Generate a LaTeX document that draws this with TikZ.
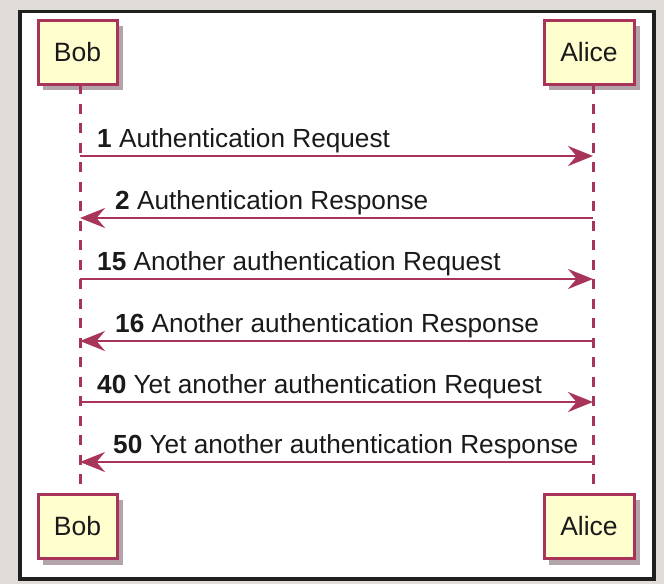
\documentclass[tikz,border=0pt]{standalone}
\usepackage{fontspec}
\setmainfont{Liberation Sans}
\usetikzlibrary{arrows.meta}
\definecolor{umlred}{RGB}{168,52,90}
\definecolor{umlfill}{RGB}{254,254,206}
\definecolor{bggray}{RGB}{224,221,217}
\definecolor{shadowgray}{RGB}{178,164,170}
\definecolor{txt}{RGB}{26,26,26}
\tikzset{
  partbox/.style={draw=umlred, line width=3pt, fill=umlfill, minimum height=64pt,
    inner sep=0pt, font=\fontsize{26.5pt}{29pt}\selectfont, text=txt},
  partshadow/.style={fill=shadowgray, draw=none},
  lifeline/.style={draw=umlred, line width=3pt, dash pattern=on 10pt off 9.5pt},
  msg/.style={draw=umlred, line width=2.8pt, -{Stealth[length=25pt, width=20pt, inset=8.5pt]}},
  msglabel/.style={anchor=base west, inner sep=0pt, text=txt, font=\fontsize{26.2pt}{29pt}\selectfont}
}
\begin{document}
\begin{tikzpicture}[x=1pt,y=-1pt]
\useasboundingbox (0,0) rectangle (664,584);
\fill[bggray] (0,0) rectangle (664,584);
\filldraw[fill=white, draw=black!88, line width=3.6pt] (20,11.5) rectangle (654,579);
% shadows
\fill[partshadow] (43,26) rectangle (123,90);
\fill[partshadow] (549,26) rectangle (640,90);
\fill[partshadow] (43,500) rectangle (123,565);
\fill[partshadow] (549,500) rectangle (640,565);
% lifelines
\coordinate (bobT) at (80,84);
\coordinate (bobB) at (80,494);
\coordinate (aliT) at (593,84);
\coordinate (aliB) at (593,494);
\draw[lifeline] (bobT) -- (bobB);
\draw[lifeline] (aliT) -- (aliB);
% participants
\node[partbox, minimum width=79pt] (bobtop) at (77.5,52) {Bob};
\node[partbox, minimum width=90pt] (alicetop) at (589,52) {Alice};
\node[partbox, minimum width=79pt] (bobbot) at (77.5,526.5) {Bob};
\node[partbox, minimum width=90pt] (alicebot) at (589,526.5) {Alice};
% message end points
\foreach \n/\y in {1/156,2/218,3/279,4/341,5/402,6/462}{
  \coordinate (b\n) at (80,\y);
  \coordinate (a\n) at (593,\y);
}
\draw[msg] (b1) -- (a1);
\draw[msg] (a2) -- (b2);
\draw[msg] (b3) -- (a3);
\draw[msg] (a4) -- (b4);
\draw[msg] (b5) -- (a5);
\draw[msg] (a6) -- (b6);
\node[msglabel] (l1) at (97,147) {\textbf{1} Authentication Request};
\node[msglabel] (l2) at (115,209) {\textbf{2} Authentication Response};
\node[msglabel] (l3) at (97,270) {\textbf{15} Another authentication Request};
\node[msglabel] (l4) at (115,332) {\textbf{16} Another authentication Response};
\node[msglabel] (l5) at (97,393) {\textbf{40} Yet another authentication Request};
\node[msglabel] (l6) at (113,453) {\textbf{50} Yet another authentication Response};
\end{tikzpicture}
\end{document}
